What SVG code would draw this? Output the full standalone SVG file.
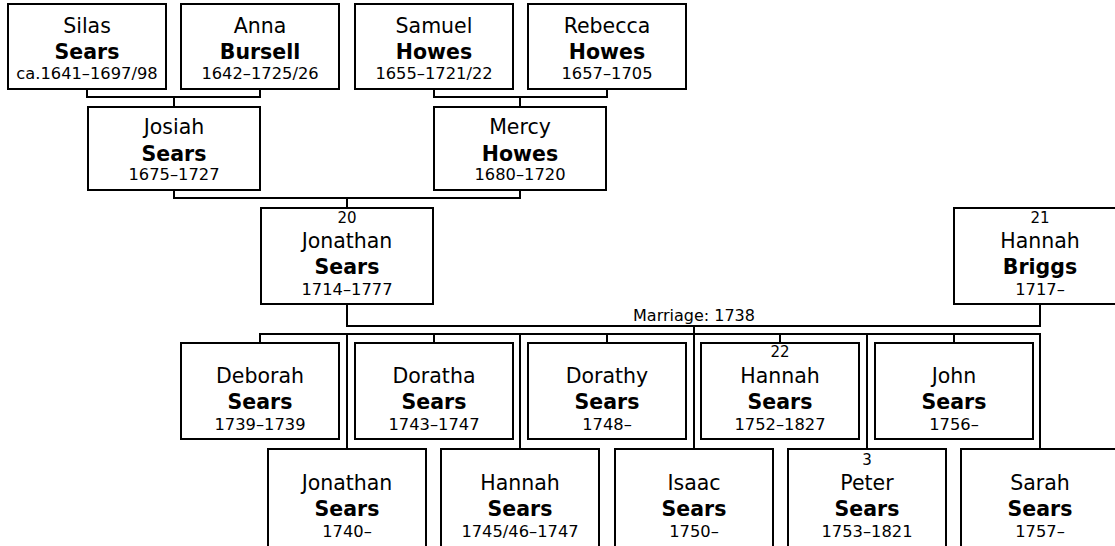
<svg xmlns="http://www.w3.org/2000/svg" width="1115" height="546" viewBox="0 0 1115 546">
<style>
  .box { fill: #ffffff; stroke: #000000; stroke-width: 2; }
  .conn { fill: none; stroke: #000000; stroke-width: 2; }
  text { font-family: "DejaVu Sans", Verdana, sans-serif; fill: #000000; text-anchor: middle; }
  .given { font-size: 20.5px; }
  .sur { font-size: 20.5px; font-weight: bold; }
  .date { font-size: 16.3px; }
  .num { font-size: 15px; }
  .lbl { font-size: 16px; }
</style>
<rect x="0" y="0" width="1115" height="546" fill="#ffffff"/>

<g id="connectors">
  <path class="conn" d="M87,89 V97 H260 V89 M174,97 V107"/>
  <path class="conn" d="M434,89 V97 H607 V89 M520,97 V107"/>
  <path class="conn" d="M174,190 V198 H520 V190 M347,198 V208"/>
  <path class="conn" d="M347,304 V326 H1040 V304 M694,326 V334"/>
  <path class="conn" d="M260,343 V334 H1040 V449"/>
  <path class="conn" d="M434,334 V343 M607,334 V343 M780,334 V343 M954,334 V343"/>
  <path class="conn" d="M347,334 V449 M520,334 V449 M694,334 V449 M867,334 V449"/>
  <text class="lbl" x="694" y="320.7">Marriage: 1738</text>
</g>

<g id="silas-sears">
  <rect class="box" x="8" y="4" width="158" height="85"/>
  <text class="given" x="87" y="33.3">Silas</text>
  <text class="sur" x="87" y="59.3">Sears</text>
  <text class="date" x="87" y="78.8">ca.1641–1697/98</text>
</g>
<g id="anna-bursell">
  <rect class="box" x="181" y="4" width="158" height="85"/>
  <text class="given" x="260" y="33.3">Anna</text>
  <text class="sur" x="260" y="59.3">Bursell</text>
  <text class="date" x="260" y="78.8">1642–1725/26</text>
</g>
<g id="samuel-howes">
  <rect class="box" x="355" y="4" width="158" height="85"/>
  <text class="given" x="434" y="33.3">Samuel</text>
  <text class="sur" x="434" y="59.3">Howes</text>
  <text class="date" x="434" y="78.8">1655–1721/22</text>
</g>
<g id="rebecca-howes">
  <rect class="box" x="528" y="4" width="158" height="85"/>
  <text class="given" x="607" y="33.3">Rebecca</text>
  <text class="sur" x="607" y="59.3">Howes</text>
  <text class="date" x="607" y="78.8">1657–1705</text>
</g>

<g id="josiah-sears">
  <rect class="box" x="88" y="107" width="172" height="83"/>
  <text class="given" x="174" y="134.3">Josiah</text>
  <text class="sur" x="174" y="160.7">Sears</text>
  <text class="date" x="174" y="180">1675–1727</text>
</g>
<g id="mercy-howes">
  <rect class="box" x="434" y="107" width="172" height="83"/>
  <text class="given" x="520" y="134.3">Mercy</text>
  <text class="sur" x="520" y="160.7">Howes</text>
  <text class="date" x="520" y="180">1680–1720</text>
</g>

<g id="jonathan-sears-20">
  <rect class="box" x="261" y="208" width="172" height="96"/>
  <text class="num" x="347" y="223.3">20</text>
  <text class="given" x="347" y="248.3">Jonathan</text>
  <text class="sur" x="347" y="274">Sears</text>
  <text class="date" x="347" y="295">1714–1777</text>
</g>
<g id="hannah-briggs-21">
  <rect class="box" x="954" y="208" width="172" height="96"/>
  <text class="num" x="1040" y="223.3">21</text>
  <text class="given" x="1040" y="248.3">Hannah</text>
  <text class="sur" x="1040" y="274">Briggs</text>
  <text class="date" x="1040" y="295">1717–</text>
</g>

<g id="deborah-sears">
  <rect class="box" x="181" y="343" width="158" height="96"/>
  <text class="given" x="260" y="383.3">Deborah</text>
  <text class="sur" x="260" y="409.3">Sears</text>
  <text class="date" x="260" y="430">1739–1739</text>
</g>
<g id="doratha-sears">
  <rect class="box" x="355" y="343" width="158" height="96"/>
  <text class="given" x="434" y="383.3">Doratha</text>
  <text class="sur" x="434" y="409.3">Sears</text>
  <text class="date" x="434" y="430">1743–1747</text>
</g>
<g id="dorathy-sears">
  <rect class="box" x="528" y="343" width="158" height="96"/>
  <text class="given" x="607" y="383.3">Dorathy</text>
  <text class="sur" x="607" y="409.3">Sears</text>
  <text class="date" x="607" y="430">1748–</text>
</g>
<g id="hannah-sears-22">
  <rect class="box" x="701" y="343" width="158" height="96"/>
  <text class="num" x="780" y="357.3">22</text>
  <text class="given" x="780" y="383.3">Hannah</text>
  <text class="sur" x="780" y="409.3">Sears</text>
  <text class="date" x="780" y="430">1752–1827</text>
</g>
<g id="john-sears">
  <rect class="box" x="875" y="343" width="158" height="96"/>
  <text class="given" x="954" y="383.3">John</text>
  <text class="sur" x="954" y="409.3">Sears</text>
  <text class="date" x="954" y="430">1756–</text>
</g>

<g id="jonathan-sears">
  <rect class="box" x="268" y="449" width="158" height="100"/>
  <text class="given" x="347" y="490">Jonathan</text>
  <text class="sur" x="347" y="516">Sears</text>
  <text class="date" x="347" y="536.7">1740–</text>
</g>
<g id="hannah-sears">
  <rect class="box" x="441" y="449" width="158" height="100"/>
  <text class="given" x="520" y="490">Hannah</text>
  <text class="sur" x="520" y="516">Sears</text>
  <text class="date" x="520" y="536.7">1745/46–1747</text>
</g>
<g id="isaac-sears">
  <rect class="box" x="615" y="449" width="158" height="100"/>
  <text class="given" x="694" y="490">Isaac</text>
  <text class="sur" x="694" y="516">Sears</text>
  <text class="date" x="694" y="536.7">1750–</text>
</g>
<g id="peter-sears-3">
  <rect class="box" x="788" y="449" width="158" height="100"/>
  <text class="num" x="867" y="465">3</text>
  <text class="given" x="867" y="490">Peter</text>
  <text class="sur" x="867" y="516">Sears</text>
  <text class="date" x="867" y="536.7">1753–1821</text>
</g>
<g id="sarah-sears">
  <rect class="box" x="961" y="449" width="158" height="100"/>
  <text class="given" x="1040" y="490">Sarah</text>
  <text class="sur" x="1040" y="516">Sears</text>
  <text class="date" x="1040" y="536.7">1757–</text>
</g>
</svg>
